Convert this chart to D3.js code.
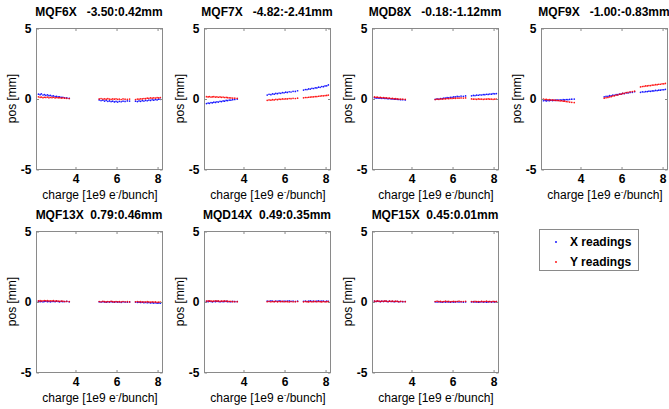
<!DOCTYPE html>
<html>
<head>
<meta charset="utf-8">
<script src="https://cdn.jsdelivr.net/npm/d3@7"></script>
<style>
  html, body { margin: 0; padding: 0; background: #fff; }
  svg { display: block; font-family: "Liberation Sans", Arial, sans-serif; }
  text { white-space: pre; }
</style>
</head>
<body>
<div id="chart"></div>
<script>
// ---------------- data ----------------
const titles = [
  "MQF6X   -3.50:0.42mm", "MQF7X   -4.82:-2.41mm", "MQD8X   -0.18:-1.12mm", "MQF9X   -1.00:-0.83mm",
  "MQF13X  0.79:0.46mm", "MQD14X  0.49:0.35mm", "MQF15X  0.45:0.01mm"
];
const xTicks = [4, 6, 8];
const yTicks = [-5, 0, 5];
const xDomain = [2.1, 8.24];
const yDomain = [-5, 5];
const seriesNames = ["X readings", "Y readings"];

// bunch charge [1e9 e-/bunch]
const charge = [
  2.22, 2.30, 2.36, 2.44, 2.51, 2.58, 2.66, 2.73, 2.80, 2.88, 2.95, 3.03, 3.10, 3.18, 3.25, 3.33, 3.41, 3.50, 3.60, 3.72,
  5.18, 5.27, 5.36, 5.44, 5.52, 5.60, 5.68, 5.76, 5.84, 5.92, 6.00, 6.08, 6.16, 6.25, 6.34, 6.44, 6.55, 6.66,
  6.95, 7.04, 7.12, 7.20, 7.28, 7.36, 7.44, 7.52, 7.60, 7.68, 7.76, 7.84, 7.92, 8.00, 8.08, 8.16
];

// X readings [mm] per magnet
const xMQF6X = [0.31,0.27,0.33,0.25,0.28,0.22,0.26,0.20,0.23,0.17,0.19,0.14,0.16,0.11,0.12,0.08,0.09,0.05,0.04,0.01,
  -0.10,-0.15,-0.12,-0.18,-0.14,-0.20,-0.17,-0.22,-0.19,-0.24,-0.21,-0.25,-0.20,-0.23,-0.19,-0.21,-0.17,-0.18,
  -0.19,-0.22,-0.17,-0.20,-0.15,-0.18,-0.13,-0.16,-0.11,-0.14,-0.09,-0.12,-0.07,-0.10,-0.05,-0.06];
const xMQF7X = [-0.36,-0.32,-0.34,-0.29,-0.31,-0.26,-0.28,-0.23,-0.25,-0.20,-0.22,-0.17,-0.19,-0.14,-0.15,-0.11,-0.12,-0.08,-0.07,-0.04,
  0.24,0.30,0.27,0.33,0.31,0.36,0.34,0.39,0.37,0.42,0.40,0.45,0.43,0.48,0.46,0.51,0.50,0.55,
  0.60,0.64,0.63,0.68,0.67,0.72,0.71,0.76,0.75,0.80,0.79,0.85,0.84,0.89,0.90,0.96];
const xMQD8X = [0.06,0.03,0.05,0.02,0.04,0.01,0.03,0.00,0.01,-0.02,0.00,-0.03,-0.02,-0.05,-0.04,-0.06,-0.07,-0.08,-0.09,-0.10,
  -0.06,-0.03,-0.04,0.00,-0.01,0.03,0.02,0.06,0.05,0.09,0.08,0.12,0.11,0.15,0.14,0.17,0.16,0.18,
  0.19,0.22,0.21,0.24,0.23,0.26,0.25,0.28,0.27,0.30,0.29,0.32,0.31,0.34,0.33,0.35];
const xMQF9X = [-0.16,-0.13,-0.17,-0.14,-0.16,-0.12,-0.15,-0.11,-0.14,-0.10,-0.13,-0.09,-0.12,-0.08,-0.10,-0.07,-0.08,-0.06,-0.05,-0.04,
  0.12,0.16,0.15,0.20,0.19,0.24,0.23,0.28,0.27,0.32,0.31,0.36,0.35,0.40,0.39,0.43,0.44,0.48,
  0.44,0.47,0.46,0.49,0.49,0.52,0.51,0.54,0.54,0.57,0.56,0.59,0.59,0.62,0.62,0.65];
const xMQF13X = [0.02,-0.01,0.01,-0.02,0.00,0.02,-0.01,0.01,-0.02,0.00,0.01,-0.01,0.02,0.00,-0.02,0.01,-0.01,0.00,0.01,-0.02,
  -0.02,-0.04,-0.01,-0.03,-0.05,-0.02,-0.04,-0.01,-0.03,-0.05,-0.02,-0.04,-0.03,-0.06,-0.02,-0.04,-0.05,-0.03,
  -0.04,-0.06,-0.05,-0.07,-0.05,-0.08,-0.06,-0.09,-0.07,-0.10,-0.08,-0.11,-0.09,-0.12,-0.10,-0.12];
const xMQD14X = [0.01,-0.01,0.02,0.00,-0.02,0.01,-0.01,0.02,0.00,-0.02,0.01,-0.01,0.00,0.02,-0.01,0.00,-0.02,0.01,-0.01,0.00,
  0.03,0.01,0.04,0.02,0.00,0.03,0.01,0.04,0.02,0.00,0.03,0.01,0.02,0.04,0.01,0.03,0.00,0.02,
  0.01,0.03,0.00,0.02,0.04,0.01,0.03,0.00,0.02,0.04,0.01,0.03,0.02,0.00,0.03,0.01];
const xMQF15X = [0.02,0.00,0.03,0.01,-0.01,0.02,0.00,0.03,0.01,-0.01,0.02,0.00,0.01,-0.01,0.00,0.01,-0.02,0.00,-0.01,0.00,
  -0.02,-0.04,-0.01,-0.03,-0.05,-0.02,-0.04,-0.01,-0.03,-0.05,-0.02,-0.04,-0.03,-0.01,-0.04,-0.02,-0.05,-0.03,
  -0.03,-0.01,-0.04,-0.02,-0.05,-0.03,-0.01,-0.04,-0.02,-0.05,-0.03,-0.01,-0.04,-0.02,-0.03,-0.01];

// Y readings [mm] per magnet
const yMQF6X = [0.12,0.08,0.10,0.06,0.09,0.07,0.10,0.05,0.08,0.06,0.09,0.04,0.07,0.05,0.06,0.03,0.04,0.02,0.01,0.00,
  -0.03,0.00,-0.04,-0.02,-0.05,-0.01,-0.04,-0.06,-0.03,-0.05,-0.02,-0.06,-0.04,-0.07,-0.03,-0.05,-0.06,-0.04,
  -0.07,-0.04,-0.05,-0.02,-0.03,0.00,-0.01,0.02,0.01,0.04,0.02,0.05,0.03,0.06,0.05,0.07];
const yMQF7X = [0.13,0.11,0.14,0.10,0.12,0.13,0.10,0.12,0.09,0.11,0.08,0.10,0.07,0.08,0.06,0.05,0.04,0.03,0.02,0.01,
  -0.13,-0.10,-0.12,-0.08,-0.10,-0.06,-0.08,-0.05,-0.06,-0.03,-0.04,-0.02,-0.03,0.00,-0.01,0.01,0.00,0.02,
  0.05,0.07,0.07,0.09,0.10,0.11,0.12,0.14,0.14,0.16,0.17,0.19,0.19,0.21,0.22,0.24];
const yMQD8X = [0.11,0.09,0.10,0.07,0.08,0.05,0.07,0.04,0.05,0.02,0.03,0.00,0.01,-0.02,-0.01,-0.03,-0.04,-0.05,-0.05,-0.06,
  -0.07,-0.05,-0.06,-0.03,-0.04,-0.02,-0.03,0.00,-0.01,0.01,0.00,0.02,0.01,0.03,0.02,0.04,0.03,0.04,
  -0.03,-0.05,-0.04,-0.06,-0.03,-0.05,-0.04,-0.06,-0.04,-0.05,-0.03,-0.05,-0.04,-0.06,-0.04,-0.05];
const yMQF9X = [-0.05,-0.07,-0.06,-0.09,-0.08,-0.11,-0.10,-0.13,-0.12,-0.15,-0.14,-0.17,-0.16,-0.19,-0.19,-0.22,-0.23,-0.25,-0.27,-0.29,
  0.02,0.06,0.07,0.12,0.13,0.18,0.19,0.24,0.25,0.30,0.31,0.36,0.37,0.42,0.43,0.47,0.49,0.52,
  0.82,0.85,0.86,0.89,0.89,0.92,0.92,0.95,0.95,0.98,0.98,1.01,1.01,1.04,1.04,1.07];
const yMQF13X = [0.04,0.06,0.03,0.05,0.07,0.04,0.06,0.03,0.05,0.04,0.06,0.02,0.04,0.03,0.01,0.03,0.02,0.00,0.01,0.00,
  0.00,-0.02,0.01,-0.01,-0.03,0.00,-0.02,0.01,-0.01,-0.03,0.00,-0.02,-0.01,-0.03,0.00,-0.02,-0.01,-0.03,
  -0.02,0.00,-0.03,-0.01,-0.04,-0.02,-0.04,-0.01,-0.03,-0.05,-0.02,-0.04,-0.03,-0.06,-0.04,-0.05];
const yMQD14X = [0.03,0.05,0.02,0.04,0.01,0.03,0.05,0.02,0.04,0.01,0.03,0.02,0.04,0.01,0.02,0.00,0.01,-0.01,0.00,-0.01,
  -0.01,0.01,-0.02,0.00,-0.01,0.01,-0.02,0.00,-0.01,0.01,-0.02,0.00,-0.01,-0.03,0.00,-0.02,-0.01,0.00,
  -0.02,0.00,-0.01,-0.03,0.00,-0.02,-0.01,0.01,-0.02,0.00,-0.01,-0.03,0.00,-0.02,-0.01,0.00];
const yMQF15X = [0.03,0.01,0.04,0.02,0.00,0.03,0.01,0.04,0.02,0.00,0.02,0.01,0.03,0.00,0.02,0.01,-0.01,0.01,0.00,-0.01,
  0.00,0.02,-0.01,0.01,-0.02,0.00,0.02,-0.01,0.01,-0.02,0.00,0.01,-0.01,0.00,0.02,-0.01,0.00,0.01,
  0.00,-0.02,0.01,-0.01,0.00,-0.02,0.01,-0.01,0.00,0.02,-0.01,0.00,-0.02,0.01,-0.01,0.00];

const xReadings = [xMQF6X, xMQF7X, xMQD8X, xMQF9X, xMQF13X, xMQD14X, xMQF15X];
const yReadings = [yMQF6X, yMQF7X, yMQD8X, yMQF9X, yMQF13X, yMQD14X, yMQF15X];

// ---------------- layout ----------------
const W = 669, H = 409;
const colLeft = [36, 204, 372, 541];
const rowTop = [28, 231];
const pw = 126, ph = 141;
const axisColor = "#8a8a8a";
const colors = ["#0000ff", "#ff0000"];

const svg = d3.select("#chart").append("svg").attr("width", W).attr("height", H);

titles.forEach((title, i) => {
  const L = colLeft[i % 4], T = rowTop[Math.floor(i / 4)];
  const x = d3.scaleLinear().domain(xDomain).range([L, L + pw]);
  const y = d3.scaleLinear().domain(yDomain).range([T + ph, T]);
  const g = svg.append("g");

  // data
  [xReadings[i], yReadings[i]].forEach((vals, s) => {
    g.append("g").selectAll("circle").data(charge.map((c, k) => [c, vals[k]]))
      .join("circle")
      .attr("cx", d => x(d[0])).attr("cy", d => y(d[1]))
      .attr("r", 0.85).attr("fill", colors[s]).attr("fill-opacity", 0.9);
  });

  // box
  g.append("rect").attr("x", L + 0.5).attr("y", T + 0.5).attr("width", pw).attr("height", ph)
    .attr("fill", "none").attr("stroke", axisColor).attr("stroke-width", 1);

  // axes with inward ticks
  const tl = 2.5;
  const fmtX = d3.format("d");
  const fmtY = d => (d < 0 ? "-" : "") + Math.abs(d);
  const bottom = g.append("g").attr("transform", `translate(0.5,${T + ph + 0.5})`)
    .call(d3.axisBottom(x).tickValues(xTicks).tickFormat(fmtX).tickSizeInner(-tl).tickSizeOuter(0).tickPadding(5));
  const top = g.append("g").attr("transform", `translate(0.5,${T + 0.5})`)
    .call(d3.axisTop(x).tickValues(xTicks).tickSizeInner(-tl).tickSizeOuter(0).tickFormat(""));
  const left = g.append("g").attr("transform", `translate(${L + 0.5},0.5)`)
    .call(d3.axisLeft(y).tickValues(yTicks).tickFormat(fmtY).tickSizeInner(-tl).tickSizeOuter(0).tickPadding(5));
  const right = g.append("g").attr("transform", `translate(${L + pw + 0.5},0.5)`)
    .call(d3.axisRight(y).tickValues(yTicks).tickSizeInner(-tl).tickSizeOuter(0).tickFormat(""));
  [bottom, top, left, right].forEach(a => {
    a.select(".domain").remove();
    a.selectAll(".tick line").attr("stroke", axisColor);
    a.selectAll(".tick text").attr("fill", "#000").attr("font-size", 12).attr("font-weight", "bold")
      .attr("font-family", "Liberation Sans, Arial, sans-serif");
  });

  // title
  g.append("text").attr("x", L + pw / 2).attr("y", T - 12)
    .attr("text-anchor", "middle").attr("font-size", 12).attr("font-weight", "bold").text(title);

  // x label
  const xl = g.append("text").attr("x", L + pw / 2 + 1).attr("y", T + ph + 30)
    .attr("text-anchor", "middle").attr("font-size", 12);
  xl.append("tspan").text("charge [1e9 e");
  xl.append("tspan").attr("dy", -5).attr("font-size", 8).text("-");
  xl.append("tspan").attr("dy", 5).text("/bunch]");

  // y label
  g.append("text").attr("transform", `translate(${L - 20},${T + ph / 2}) rotate(-90)`)
    .attr("text-anchor", "middle").attr("font-size", 12).text("pos [mm]");
});

// legend
const lg = svg.append("g");
lg.append("rect").attr("x", 539.5).attr("y", 229.5).attr("width", 99).attr("height", 41)
  .attr("fill", "#fff").attr("stroke", axisColor).attr("stroke-width", 1);
seriesNames.forEach((name, s) => {
  const yy = 242 + s * 20;
  lg.append("circle").attr("cx", 556).attr("cy", yy).attr("r", 0.9).attr("fill", colors[s]);
  lg.append("text").attr("x", 570).attr("y", yy + 4).attr("font-size", 12).attr("font-weight", "bold").text(name);
});
</script>
</body>
</html>
